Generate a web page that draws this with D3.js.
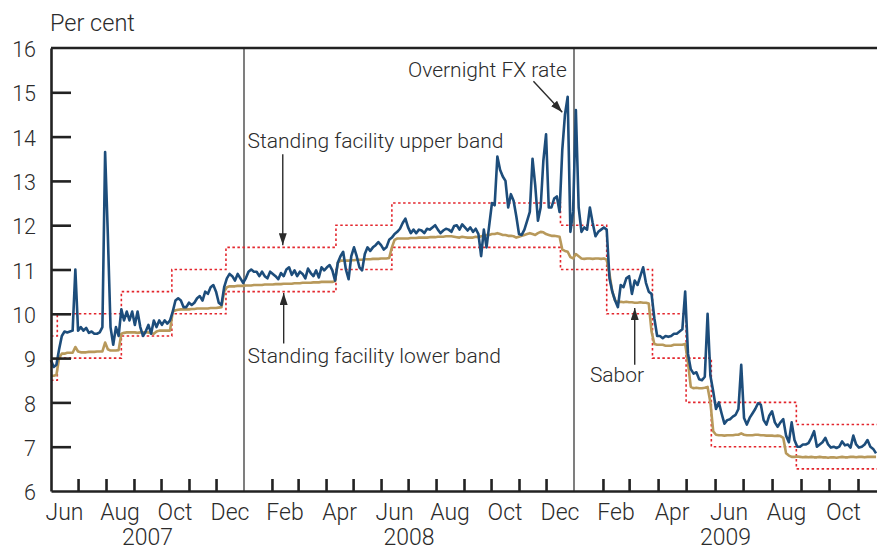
<!DOCTYPE html>
<html>
<head>
<meta charset="utf-8">
<script src="https://cdn.jsdelivr.net/npm/d3@7"></script>
<style>
  body { margin: 0; background: #fff; }
  svg text { font-family: Roboto, "Liberation Sans", Arial, sans-serif; font-weight: 300; fill: #2b2b2b; }
</style>
</head>
<body>
<div id="chart"></div>
<script>
// one reading every 3 days from 1 June 2007
var startDate = "2007-06-01";
var stepDays = 3;

var overnightFx = [
  8.95, 8.8, 8.85, 9.2, 9.5, 9.6, 9.58, 9.6, 9.62, 11.0,
  9.62, 9.7, 9.62, 9.68, 9.57, 9.6, 9.55, 9.55, 9.58, 9.7,
  13.65, 11.8, 9.7, 9.3, 9.7, 9.5, 10.1, 9.85, 10.05, 9.85,
  10.05, 9.75, 10.05, 9.7, 9.5, 9.6, 9.75, 9.55, 9.85, 9.7,
  9.85, 9.75, 9.85, 9.78, 9.85, 10.05, 10.3, 10.35, 10.3, 10.15,
  10.15, 10.25, 10.2, 10.25, 10.35, 10.4, 10.3, 10.5, 10.45, 10.6,
  10.65, 10.5, 10.25, 10.2, 10.6, 10.8, 10.9, 10.85, 10.75, 10.9,
  10.8, 10.7, 10.8, 10.95, 11.0, 10.95, 10.95, 10.85, 10.95, 10.85,
  10.8, 10.95, 10.9, 10.85, 10.78, 10.92, 10.85, 11.0, 11.05, 10.88,
  10.98, 10.85, 10.95, 10.9, 10.8, 11.02, 10.92, 10.85, 10.98, 10.82,
  11.05, 10.98, 11.05, 11.1, 10.98, 10.75, 11.15, 11.3, 11.4, 11.0,
  10.78, 11.3, 11.5, 11.3, 11.05, 10.98, 11.35, 11.5, 11.42, 11.5,
  11.55, 11.62, 11.55, 11.45, 11.5, 11.67, 11.72, 11.8, 11.85, 11.92,
  12.05, 12.15, 11.95, 11.82, 11.9, 11.82, 11.9, 11.88, 11.82, 11.92,
  11.9, 11.95, 12.0, 11.9, 11.82, 11.88, 11.92, 11.9, 11.85, 11.98,
  12.0, 11.9, 12.02, 11.95, 11.88, 11.95, 11.85, 11.92, 11.8, 11.3,
  11.9, 11.5, 12.0, 12.5, 12.45, 13.55, 13.25, 13.1, 13.0, 12.4,
  12.7, 12.55, 12.2, 11.8, 11.78, 11.9, 12.1, 12.3, 13.5, 12.9,
  12.1, 12.4, 13.45, 14.05, 12.4, 12.4, 12.6, 12.65, 12.3, 13.7,
  14.5, 14.9, 11.85, 12.3, 14.6, 12.4, 11.85, 11.95, 11.9, 12.4,
  12.05, 11.75, 11.85, 11.9, 11.95, 11.9, 10.8, 10.5, 10.3, 10.15,
  10.65, 10.6, 10.8, 10.85, 10.45, 10.75, 10.65, 10.85, 11.05, 10.7,
  10.5, 10.45, 9.9, 9.5, 9.5, 9.45, 9.5, 9.48, 9.5, 9.55,
  9.55, 9.6, 9.65, 10.5, 9.1, 8.75, 8.65, 8.68, 8.52, 8.5,
  8.58, 10.0, 8.6, 8.25, 7.85, 8.0, 7.75, 7.52, 7.6, 7.62,
  7.68, 7.72, 7.85, 8.85, 7.65, 7.5, 7.65, 7.75, 7.85, 7.98,
  7.95, 7.6, 7.5, 7.7, 7.8, 7.55, 7.45, 7.55, 7.62, 7.25,
  7.1, 7.55, 7.15, 7.0, 7.0, 7.05, 7.05, 7.08, 7.2, 7.35,
  7.0, 7.05, 7.1, 7.2, 7.05, 6.98, 7.0, 6.97, 7.0, 7.12,
  7.03, 7.05, 6.98, 7.25, 7.05, 6.98, 7.0, 7.05, 7.15, 7.0,
  6.95, 6.85
];

var sabor = [
  8.6, 8.6, 8.62, 9.0, 9.1, 9.1, 9.12, 9.12, 9.12, 9.25,
  9.15, 9.13, 9.13, 9.13, 9.14, 9.14, 9.14, 9.15, 9.15, 9.15,
  9.35, 9.2, 9.17, 9.17, 9.17, 9.18, 9.55, 9.57, 9.58, 9.58,
  9.58, 9.58, 9.57, 9.58, 9.58, 9.58, 9.58, 9.56, 9.55, 9.6,
  9.62, 9.62, 9.62, 9.62, 9.62, 10.05, 10.08, 10.09, 10.1, 10.1,
  10.1, 10.1, 10.11, 10.11, 10.12, 10.12, 10.12, 10.12, 10.12, 10.13,
  10.13, 10.13, 10.14, 10.15, 10.5, 10.6, 10.62, 10.62, 10.62, 10.63,
  10.63, 10.63, 10.64, 10.64, 10.64, 10.65, 10.65, 10.65, 10.65, 10.66,
  10.66, 10.66, 10.66, 10.67, 10.67, 10.67, 10.68, 10.68, 10.68, 10.68,
  10.69, 10.69, 10.69, 10.7, 10.7, 10.7, 10.7, 10.71, 10.71, 10.71,
  10.72, 10.72, 10.72, 10.72, 10.72, 10.74, 11.15, 11.2, 11.2, 11.2,
  11.2, 11.21, 11.21, 11.22, 11.22, 11.22, 11.23, 11.23, 11.23, 11.24,
  11.24, 11.24, 11.25, 11.25, 11.25, 11.26, 11.5, 11.67, 11.7, 11.7,
  11.7, 11.7, 11.7, 11.71, 11.71, 11.71, 11.72, 11.72, 11.72, 11.72,
  11.73, 11.73, 11.73, 11.74, 11.74, 11.74, 11.75, 11.75, 11.75, 11.74,
  11.73, 11.72, 11.74, 11.73, 11.72, 11.72, 11.72, 11.74, 11.73, 11.75,
  11.76, 11.78, 11.78, 11.8, 11.8, 11.82, 11.8, 11.78, 11.78, 11.76,
  11.76, 11.75, 11.72, 11.74, 11.76, 11.78, 11.8, 11.82, 11.8, 11.78,
  11.82, 11.85, 11.84, 11.8, 11.78, 11.76, 11.76, 11.75, 11.74, 11.45,
  11.42, 11.4, 11.28, 11.25, 11.35, 11.3, 11.25, 11.24, 11.25, 11.25,
  11.24, 11.25, 11.25, 11.24, 11.25, 11.22, 10.9, 10.5, 10.3, 10.27,
  10.27, 10.26, 10.27, 10.26, 10.26, 10.25, 10.25, 10.26, 10.25, 10.25,
  10.23, 9.6, 9.32, 9.3, 9.3, 9.3, 9.28, 9.28, 9.28, 9.3,
  9.3, 9.3, 9.3, 9.32, 8.9, 8.35, 8.32, 8.33, 8.32, 8.32,
  8.33, 8.35, 8.0, 7.35, 7.27, 7.26, 7.26, 7.25, 7.26, 7.26,
  7.26, 7.27, 7.27, 7.3, 7.27, 7.26, 7.26, 7.26, 7.27, 7.27,
  7.26, 7.26, 7.25, 7.25, 7.25, 7.24, 7.25, 7.24, 7.2, 6.85,
  6.8, 6.77, 6.77, 6.78, 6.77, 6.76, 6.77, 6.76, 6.77, 6.76,
  6.76, 6.77, 6.76, 6.76, 6.75, 6.76, 6.76, 6.75, 6.76, 6.77,
  6.76, 6.76, 6.77, 6.77, 6.76, 6.77, 6.77, 6.76, 6.77, 6.77,
  6.77, 6.77
];

// standing facility corridor, value holds from each date onward
var bandDates = ["2007-06-01", "2007-06-08", "2007-08-18", "2007-10-13", "2007-12-12",
  "2008-04-12", "2008-06-13", "2008-12-17", "2009-02-05", "2009-03-26",
  "2009-05-01", "2009-05-28", "2009-08-27"];
var upperBand = [9.5, 10, 10.5, 11, 11.5, 12, 12.5, 12, 11, 10, 9, 8, 7.5];
var lowerBand = [8.5, 9, 9.5, 10, 10.5, 11, 11.5, 11, 10, 9, 8, 7, 6.5];

var yTicks = [6, 7, 8, 9, 10, 11, 12, 13, 14, 15, 16];
var monthLabels = ["Jun", "Aug", "Oct", "Dec", "Feb", "Apr", "Jun", "Aug", "Oct", "Dec",
  "Feb", "Apr", "Jun", "Aug", "Oct"];
var yearLabels = ["2007", "2008", "2009"];

var width = 877, height = 551;
var parse = d3.timeParse("%Y-%m-%d");

// axis spacing differs a little between the years, so the time scale is piecewise
var x = d3.scaleTime()
    .domain(["2007-06-01", "2008-01-01", "2009-01-01", "2009-11-01", "2009-11-21"].map(parse))
    .range([51, 244, 574, 858, 877]);
var y = d3.scaleLinear()
    .domain([6, 16])
    .range([491, 48]);

var t0 = parse(startDate);
var endDate = x.domain()[x.domain().length - 1];

function toSeries(values) {
    return values.map(function (v, i) {
        return { date: d3.timeDay.offset(t0, i * stepDays), value: v };
    });
}
function toSteps(values) {
    var pts = values.map(function (v, i) { return { date: parse(bandDates[i]), value: v }; });
    pts.push({ date: endDate, value: values[values.length - 1] });
    return pts;
}

var svg = d3.select("#chart").append("svg")
    .attr("width", width)
    .attr("height", height);

svg.append("defs").append("marker")
    .attr("id", "arrow")
    .attr("viewBox", "0 0 12 8")
    .attr("refX", 12).attr("refY", 4)
    .attr("markerUnits", "userSpaceOnUse")
    .attr("markerWidth", 12).attr("markerHeight", 8)
    .attr("orient", "auto")
    .append("path")
    .attr("d", "M0,0L12,4L0,8Z")
    .attr("fill", "#2b2b2b");

// year separators
svg.selectAll(".yearline")
    .data([parse("2008-01-01"), parse("2009-01-01")])
    .enter().append("line")
    .attr("class", "yearline")
    .attr("x1", function (d) { return x(d); })
    .attr("x2", function (d) { return x(d); })
    .attr("y1", y(16)).attr("y2", y(6))
    .attr("stroke", "#3a3a3a")
    .attr("stroke-width", 1.3);

var line = d3.line()
    .x(function (d) { return x(d.date); })
    .y(function (d) { return y(d.value); });
var stepLine = d3.line()
    .curve(d3.curveStepAfter)
    .x(function (d) { return x(d.date); })
    .y(function (d) { return y(d.value); });

[upperBand, lowerBand].forEach(function (band) {
    svg.append("path")
        .datum(toSteps(band))
        .attr("d", stepLine)
        .attr("fill", "none")
        .attr("stroke", "#e3262d")
        .attr("stroke-width", 1.6)
        .attr("stroke-dasharray", "2.5,2.5");
});

svg.append("path")
    .datum(toSeries(sabor))
    .attr("d", line)
    .attr("fill", "none")
    .attr("stroke", "#b8995b")
    .attr("stroke-width", 2.6)
    .attr("stroke-linejoin", "round");

svg.append("path")
    .datum(toSeries(overnightFx))
    .attr("d", line)
    .attr("fill", "none")
    .attr("stroke", "#1d4d7b")
    .attr("stroke-width", 2.6)
    .attr("stroke-linejoin", "round");

// top frame line
svg.append("line")
    .attr("x1", x.range()[0]).attr("x2", width)
    .attr("y1", y(16)).attr("y2", y(16))
    .attr("stroke", "#222").attr("stroke-width", 2.4);

// left axis, ticks point into the plot
var yAxis = svg.append("g")
    .attr("transform", "translate(" + x.range()[0] + ",0)")
    .call(d3.axisLeft(y).tickValues(yTicks).tickSizeInner(-20).tickSizeOuter(0).tickPadding(15));
yAxis.select(".domain").attr("stroke", "#222").attr("stroke-width", 2.6);
yAxis.selectAll(".tick line")
    .attr("stroke", "#222").attr("stroke-width", 2.6)
    .filter(function (d) { return d === 6 || d === 16; }).remove();
yAxis.selectAll(".tick text")
    .attr("font-size", 21.5)
    .attr("dy", "0.4em");
yAxis.attr("font-family", null).attr("font-size", null);

// bottom axis: a tick at each month start, Januaries carry the year line
var monthTicks = d3.timeMonth.range(parse("2007-07-01"), endDate)
    .filter(function (d) { return d.getMonth() !== 0; });
var xAxis = svg.append("g")
    .attr("transform", "translate(0," + y(6) + ")")
    .call(d3.axisBottom(x).tickValues(monthTicks).tickSizeInner(-12).tickSizeOuter(0).tickFormat(""));
xAxis.select(".domain").attr("stroke", "#222").attr("stroke-width", 2.6);
xAxis.selectAll(".tick line").attr("stroke", "#222").attr("stroke-width", 2.6);
xAxis.attr("font-family", null).attr("font-size", null);

var labelMonths = d3.timeMonth.range(t0, endDate, 2);
svg.selectAll(".mlabel")
    .data(monthLabels)
    .enter().append("text")
    .attr("class", "mlabel")
    .attr("x", function (d, i) {
        var m = labelMonths[i];
        return (x(m) + x(d3.timeMonth.offset(m, 1))) / 2;
    })
    .attr("y", 520)
    .attr("text-anchor", "middle")
    .attr("font-size", 23)
    .text(function (d) { return d; });

svg.selectAll(".ylabel")
    .data(yearLabels)
    .enter().append("text")
    .attr("class", "ylabel")
    .attr("x", function (d) {
        var a = Math.max(x(parse(d + "-01-01")), x.range()[0]);
        var b = Math.min(x(parse((+d + 1) + "-01-01")), width);
        return (a + b) / 2;
    })
    .attr("y", 545)
    .attr("text-anchor", "middle")
    .attr("font-size", 23)
    .text(function (d) { return d; });

svg.append("text")
    .attr("x", 50).attr("y", 31)
    .attr("font-size", 23.5)
    .text("Per cent");

// annotations
var notes = [
    { text: "Standing facility upper band", at: ["2008-01-05", 13.74], anchor: "start",
      from: ["2008-02-13", 13.6], to: ["2008-02-13", 11.55] },
    { text: "Standing facility lower band", at: ["2008-01-05", 8.9], anchor: "start",
      from: ["2008-02-14", 9.33], to: ["2008-02-14", 10.47] },
    { text: "Overnight FX rate", at: ["2008-12-24", 15.35], anchor: "end",
      from: ["2008-11-17", 15.25], to: ["2008-12-19", 14.55] },
    { text: "Sabor", at: ["2009-01-18", 8.45], anchor: "start",
      from: ["2009-03-07", 8.85], to: ["2009-03-07", 10.13] }
];
notes.forEach(function (n) {
    svg.append("text")
        .attr("x", x(parse(n.at[0])))
        .attr("y", y(n.at[1]))
        .attr("text-anchor", n.anchor)
        .attr("font-size", 21)
        .text(n.text);
    svg.append("line")
        .attr("x1", x(parse(n.from[0]))).attr("y1", y(n.from[1]))
        .attr("x2", x(parse(n.to[0]))).attr("y2", y(n.to[1]))
        .attr("stroke", "#2b2b2b")
        .attr("stroke-width", 1.4)
        .attr("marker-end", "url(#arrow)");
});
</script>
</body>
</html>
